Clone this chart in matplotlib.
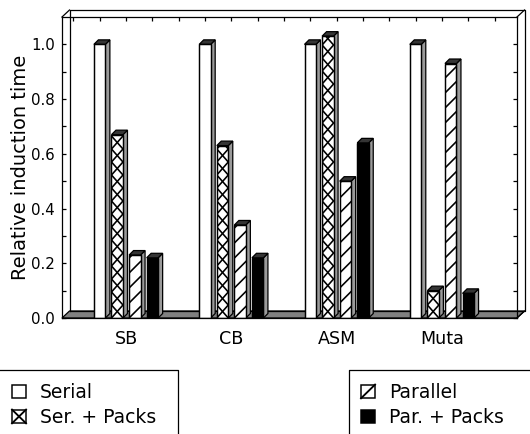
import numpy as np
import matplotlib
matplotlib.use('Agg')
import matplotlib.pyplot as plt
from matplotlib.patches import Polygon, Patch, Rectangle
from matplotlib.lines import Line2D
from matplotlib.legend_handler import HandlerBase

# ---- data ----
categories = ['SB', 'CB', 'ASM', 'Muta']
serial = [1.00, 1.00, 1.00, 1.00]
ser_packs = [0.67, 0.63, 1.03, 0.10]
parallel = [0.23, 0.34, 0.50, 0.93]
par_packs = [0.22, 0.22, 0.64, 0.09]
series_names = ['Serial', 'Ser. + Packs', 'Parallel', 'Par. + Packs']
yticks = [0.0, 0.2, 0.4, 0.6, 0.8, 1.0]
ytick_labels = ['0.0', '0.2', '0.4', '0.6', '0.8', '1.0']
ylabel = 'Relative induction time'

all_series = [serial, ser_packs, parallel, par_packs]
styles = [dict(fc='white', hatch=None),
          dict(fc='white', hatch='x'),
          dict(fc='white', hatch='/'),
          dict(fc='black', hatch=None)]

DPI = 90
W, H = 530, 434
plt.rcParams['font.family'] = ['DejaVu Sans']

fig = plt.figure(figsize=(W / DPI, H / DPI), dpi=DPI)
ax = fig.add_axes([62 / W, 1 - 318 / H, 455 / W, 301 / H])
xmin, xmax = -0.608, 3.713
ymin, ymax = 0.0, 1.1
ax.set_xlim(xmin, xmax)
ax.set_ylim(ymin, ymax)


def px2data(px, py):
    inv = ax.transData.inverted()
    x0, y0 = inv.transform((0, 0))
    x1, y1 = inv.transform((px, py))
    return x1 - x0, y1 - y0


x = np.arange(len(categories))
pitch = 0.167
w = 0.109
w_px = ax.transData.transform((w, 0))[0] - ax.transData.transform((0, 0))[0]

bdx, bdy = px2data(4.5, 4.5)   # bar depth
Dx, Dy = px2data(7.5, 7.0)     # box depth
_, cell = px2data(0, 13.0)     # cross-hatch cell height
_, dperiod = px2data(0, 15.0)  # diagonal hatch period
_, drise = px2data(0, w_px)    # 45 degree rise across a bar

SIDE = '#9a9a9a'
TOP = '#353535'
FLOOR = '#808080'

# floor
ax.add_patch(Polygon([(xmin, 0), (xmax, 0), (xmax + Dx, Dy), (xmin + Dx, Dy)],
                     closed=True, fc=FLOOR, ec='black', lw=1, zorder=1, clip_on=False))
# back box lines
back_kw = dict(color='black', lw=1, zorder=1.5, clip_on=False)
ax.add_line(Line2D([xmin + Dx, xmax + Dx, xmax + Dx, xmin + Dx, xmin + Dx],
                   [Dy, Dy, ymax + Dy, ymax + Dy, Dy], **back_kw))
ax.add_line(Line2D([xmin, xmin + Dx], [ymax, ymax + Dy], **back_kw))
ax.add_line(Line2D([xmax, xmax + Dx], [ymax, ymax + Dy], **back_kw))
ax.add_line(Line2D([xmax, xmax + Dx], [0, Dy], **back_kw))

# bars
for i, vals in enumerate(all_series):
    st = styles[i]
    left = x + (i - 1.5) * pitch - w / 2
    bars = ax.bar(left, vals, width=w, align='edge', facecolor=st['fc'],
                  edgecolor='black', linewidth=1, zorder=6)
    for r in bars:
        x0 = r.get_x()
        v = r.get_height()
        ax.add_patch(Polygon([(x0 + w, 0), (x0 + w + bdx, bdy), (x0 + w + bdx, v + bdy), (x0 + w, v)],
                             closed=True, fc=SIDE, ec='black', lw=1, zorder=5))
        ax.add_patch(Polygon([(x0, v), (x0 + bdx, v + bdy), (x0 + w + bdx, v + bdy), (x0 + w, v)],
                             closed=True, fc=TOP, ec='black', lw=1, zorder=5))
        if st['hatch'] == 'x':
            n = int(np.ceil(v / cell)) + 1
            ys = np.arange(n + 1) * cell
            xa = np.where(np.arange(n + 1) % 2 == 0, x0, x0 + w)
            xb = np.where(np.arange(n + 1) % 2 == 0, x0 + w, x0)
            for xs in (xa, xb):
                ln = Line2D(xs, ys, color='black', lw=1.3, zorder=6.5)
                ax.add_line(ln)
                ln.set_clip_path(r)
        elif st['hatch'] == '/':
            n = int(np.ceil(v / dperiod)) + 1
            for k in range(-1, n + 1):
                y0 = k * dperiod
                ln = Line2D([x0, x0 + w], [y0, y0 + drise], color='black',
                            lw=1.3, zorder=6.5)
                ax.add_line(ln)
                ln.set_clip_path(r)
        # redraw bar outline on top of hatch lines
        ax.add_patch(Rectangle((x0, 0), w, v, fill=False, ec='black', lw=1, zorder=7))

for sp in ax.spines.values():
    sp.set_linewidth(1)
    sp.set_zorder(20)

ax.set_xticks(x, categories)
ax.set_xticks(np.arange(-0.5, 3.51, 0.25), minor=True)
ax.tick_params(axis='x', which='both', direction='in', top=True, bottom=False,
               length=3.5, width=1, labelsize=14, pad=10)
ax.set_yticks(yticks, ytick_labels)
ax.set_yticks(np.arange(0, 1.05, 0.1), minor=True)
ax.tick_params(axis='y', which='both', direction='in', left=True, right=True,
               length=3.5, width=1, labelsize=12, pad=5.6)
ax.set_ylabel(ylabel, fontsize=15.5, labelpad=1)


# legends with simple pattern boxes
class BoxHandler(HandlerBase):
    def __init__(self, kind):
        super().__init__()
        self.kind = kind

    def create_artists(self, legend, orig_handle, xdescent, ydescent,
                       width, height, fontsize, trans):
        x0, y0 = -xdescent, -ydescent
        arts = [Rectangle((x0, y0), width, height, facecolor=orig_handle.get_facecolor(),
                          edgecolor='black', lw=1.2, transform=trans)]
        if self.kind in ('x', '/'):
            arts.append(Line2D([x0, x0 + width], [y0, y0 + height], color='black',
                               lw=1.5, transform=trans))
        if self.kind == 'x':
            arts.append(Line2D([x0, x0 + width], [y0 + height, y0], color='black',
                               lw=1.5, transform=trans))
        return arts


handles = [Patch(facecolor=st['fc'], edgecolor='black') for st in styles]
hmap = {h: BoxHandler(st['hatch']) for h, st in zip(handles, styles)}
leg_kw = dict(loc='upper left', frameon=False, fontsize=15, handlelength=0.75,
              handleheight=0.75, handletextpad=0.75, labelspacing=0.32,
              borderpad=0, borderaxespad=0)
fig.legend(handles[:2], series_names[:2], bbox_to_anchor=(12 / W, 1 - 383 / H),
           handler_map=hmap, **leg_kw)
fig.legend(handles[2:], series_names[2:], bbox_to_anchor=(361 / W, 1 - 383 / H),
           handler_map=hmap, **leg_kw)

top = 1 - 370 / H
fig.add_artist(Line2D([0, 178 / W, 178 / W], [top, top, 0], color='black', lw=1,
                      transform=fig.transFigure))
fig.add_artist(Line2D([1, 349 / W, 349 / W], [top, top, 0], color='black', lw=1,
                      transform=fig.transFigure))

fig.savefig('out.png', dpi=DPI)
